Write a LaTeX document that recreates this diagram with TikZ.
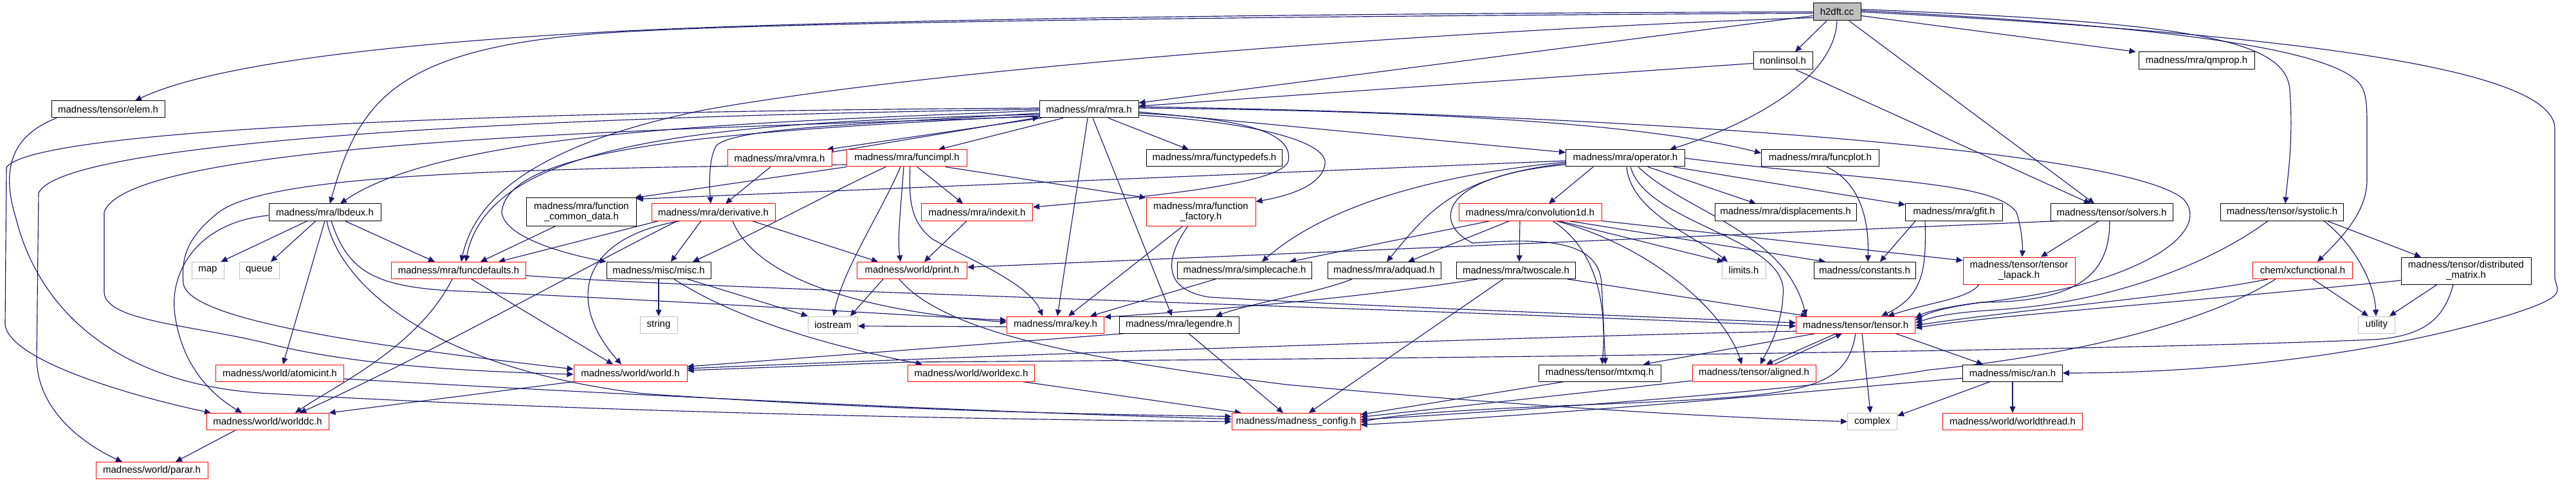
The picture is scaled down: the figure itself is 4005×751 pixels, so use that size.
\documentclass[tikz,border=0pt]{standalone}
\usepackage{fontspec}
\setmainfont{Liberation Sans}
\usetikzlibrary{arrows.meta,backgrounds}
\definecolor{eblue}{HTML}{191970}
\definecolor{sysgray}{HTML}{BFBFBF}
\definecolor{rootgray}{HTML}{BFBFBF}
\begin{document}
\begin{tikzpicture}[x=1pt,y=-1pt,
  nd/.style={draw=black,line width=1pt,fill=white,inner sep=0pt,minimum height=26pt,align=center,font=\fontsize{15pt}{16pt}\selectfont},
  rd/.style={nd,draw=red},
  gn/.style={nd,draw=sysgray},
  e/.style={draw=eblue,line width=1.15pt,-{Triangle[length=10pt,width=9pt]}}]
\useasboundingbox (0,0) rectangle (4005,751);
% ---------------- nodes ----------------
\node[nd,minimum width=74pt,minimum height=27pt,fill=rootgray] (h2dft) at (2856,18.5) {h2dft.cc};
\node[nd,minimum width=92pt,minimum height=27pt] (nonlinsol) at (2772,94.5) {nonlinsol.h};
\node[nd,minimum width=180pt,minimum height=27pt] (qmprop) at (3415,94.5) {madness/mra/qmprop.h};
\node[nd,minimum width=176pt] (elem) at (168,170) {madness/tensor/elem.h};
\node[nd,minimum width=154pt] (mra) at (1693,170) {madness/mra/mra.h};
\node[rd,minimum width=162pt] (vmra) at (1212,246) {madness/mra/vmra.h};
\node[rd,minimum width=187pt] (funcimpl) at (1410,246) {madness/mra/funcimpl.h};
\node[nd,minimum width=211pt] (functypedefs) at (1888,246) {madness/mra/functypedefs.h};
\node[nd,minimum width=185pt] (operator) at (2527,246) {madness/mra/operator.h};
\node[nd,minimum width=183pt] (funcplot) at (2830,246) {madness/mra/funcplot.h};
\node[nd,minimum width=174pt] (lbdeux) at (505,330) {madness/mra/lbdeux.h};
\node[nd,minimum width=171pt,minimum height=43pt] (fcd) at (904,329.5) {madness/mra/function\\\_common\_data.h};
\node[rd,minimum width=192pt] (derivative) at (1109,330) {madness/mra/derivative.h};
\node[rd,minimum width=173pt] (indexit) at (1519,330) {madness/mra/indexit.h};
\node[rd,minimum width=170pt,minimum height=43pt] (ffactory) at (1867,329.5) {madness/mra/function\\\_factory.h};
\node[rd,minimum width=222pt] (conv1d) at (2379,330) {madness/mra/convolution1d.h};
\node[nd,minimum width=220pt] (displacements) at (2776,330) {madness/mra/displacements.h};
\node[nd,minimum width=151pt] (gfit) at (3038,330) {madness/mra/gfit.h};
\node[nd,minimum width=190pt] (solvers) at (3283,330) {madness/tensor/solvers.h};
\node[nd,minimum width=191pt] (systolic) at (3548,330) {madness/tensor/systolic.h};
\node[gn,minimum width=50pt] (map) at (323,420.5) {map};
\node[gn,minimum width=62pt] (queue) at (403,420.5) {queue};
\node[rd,minimum width=209pt] (funcdefaults) at (713,420.5) {madness/mra/funcdefaults.h};
\node[nd,minimum width=162pt] (misc) at (1024,420.5) {madness/misc/misc.h};
\node[rd,minimum width=171pt] (print) at (1418,420.5) {madness/world/print.h};
\node[nd,minimum width=209pt] (simplecache) at (1935,420.5) {madness/mra/simplecache.h};
\node[nd,minimum width=176pt] (adquad) at (2152,420.5) {madness/mra/adquad.h};
\node[nd,minimum width=185pt] (twoscale) at (2357,420.5) {madness/mra/twoscale.h};
\node[gn,minimum width=68pt] (limits) at (2711,420.5) {limits.h};
\node[nd,minimum width=158pt] (constants) at (2899,420.5) {madness/constants.h};
\node[rd,minimum width=174pt,minimum height=42pt] (lapack) at (3139,421) {madness/tensor/tensor\\\_lapack.h};
\node[rd,minimum width=155pt] (xcfunc) at (3580,420.5) {chem/xcfunctional.h};
\node[nd,minimum width=202pt,minimum height=42pt] (distmat) at (3834,421) {madness/tensor/distributed\\\_matrix.h};
\node[gn,minimum width=58pt] (string) at (1024,505) {string};
\node[gn,minimum width=77pt] (iostream) at (1295,505) {iostream};
\node[rd,minimum width=151pt] (key) at (1641,505) {madness/mra/key.h};
\node[nd,minimum width=186pt] (legendre) at (1833,505) {madness/mra/legendre.h};
\node[rd,minimum width=185pt] (tensor) at (2885,505) {madness/tensor/tensor.h};
\node[gn,minimum width=57pt] (utility) at (3695,505) {utility};
\node[rd,minimum width=199pt] (atomicint) at (435,580) {madness/world/atomicint.h};
\node[rd,minimum width=176pt] (world) at (980,580) {madness/world/world.h};
\node[rd,minimum width=197pt] (worldexc) at (1510,580) {madness/world/worldexc.h};
\node[nd,minimum width=190pt] (mtxmq) at (2487,580) {madness/tensor/mtxmq.h};
\node[rd,minimum width=192pt] (aligned) at (2727,580) {madness/tensor/aligned.h};
\node[nd,minimum width=155pt] (ran) at (3129,580) {madness/misc/ran.h};
\node[rd,minimum width=190pt] (worlddc) at (416,655.5) {madness/world/worlddc.h};
\node[rd,minimum width=200pt] (config) at (2015,655.5) {madness/madness\_config.h};
\node[gn,minimum width=77pt] (complex) at (2911,655.5) {complex};
\node[rd,minimum width=217pt] (worldthread) at (3129,655.5) {madness/world/worldthread.h};
\node[rd,minimum width=174pt] (parar) at (236,731.5) {madness/world/parar.h};
% ---------------- edges ----------------
\begin{pgfonlayer}{background}
\fill[white] (0,0) rectangle (4005,751);
% h2dft.cc
\draw[e] (h2dft.west) .. controls (2200,20) and (1300,28) .. (900,52) .. controls (600,70) and (330,100) .. ([xshift=42pt]elem.north);
\draw[e] ([yshift=-2pt]h2dft.west) .. controls (2200,24) and (1300,32) .. (1000,48) .. controls (620,65) and (560,150) .. ([xshift=8pt]lbdeux.north);
\draw[e] ([yshift=-6pt]h2dft.west) -- ([yshift=10pt]mra.east);
\draw[e] ([yshift=-9pt]h2dft.west) .. controls (2300,45) and (1500,100) .. (1100,170) .. controls (850,220) and (740,300) .. ([xshift=4pt]funcdefaults.north);
\draw[e] ([xshift=-16pt]h2dft.south) -- ([xshift=19pt]nonlinsol.north);
\draw[e] (h2dft.south) .. controls (2852,130) and (2700,200) .. ([xshift=69pt]operator.north);
\draw[e] ([yshift=-6pt]h2dft.east) -- ([xshift=-4pt]qmprop.north west);
\draw[e] ([xshift=19pt]h2dft.south) -- ([xshift=-27pt]solvers.north);
\draw[e] ([yshift=4pt]h2dft.east) .. controls (3400,35) and (3555,60) .. (3560,140) .. controls (3566,220) and (3556,280) .. ([xshift=5pt]systolic.north);
\draw[e] ([yshift=2pt]h2dft.east) .. controls (3400,42) and (3640,80) .. (3672,135) .. controls (3680,150) and (3680,170) .. (3680,200) -- (3680,280) .. controls (3680,330) and (3640,370) .. ([xshift=23pt]xcfunc.north);
\draw[e] (h2dft.east) .. controls (3600,55) and (3972,110) .. (3972,200) -- (3972,430) .. controls (3972,452) and (4002,458) .. (3900,490) .. controls (3700,550) and (3450,580) .. (ran.east);
% nonlinsol.h
\draw[e] ([yshift=-4pt]nonlinsol.west) -- ([yshift=5pt]mra.east);
\draw[e] ([xshift=20pt]nonlinsol.south) -- ([xshift=-33pt]solvers.north);
% mra.h
\draw[e] ([yshift=-2pt]mra.west) .. controls (1200,190) and (700,200) .. ([xshift=24pt]lbdeux.north);
\draw[e] ([xshift=4pt]mra.south west) -- ([xshift=-8pt]vmra.north east);
\draw[e] ([yshift=-4pt]vmra.north east) -- ([yshift=1pt]mra.south west);
\draw[e] ([xshift=-40pt]mra.south) -- ([xshift=49pt]funcimpl.north);
\draw[e] ([xshift=30pt]mra.south) -- ([xshift=-40pt]functypedefs.north);
\draw[e] ([yshift=-4pt]mra.east) -- ([yshift=9pt]operator.west);
\draw[e] ([yshift=2pt]mra.east) .. controls (2200,172) and (2550,190) .. ([yshift=8pt]funcplot.west);
\draw[e] ([yshift=-6pt]mra.west) .. controls (1300,195) and (1150,200) .. (1115,225) .. controls (1103,240) and (1102,280) .. ([xshift=-4pt]derivative.north);
\draw[e] ([yshift=-6pt]mra.east) .. controls (1950,185) and (2010,210) .. (2003,250) .. controls (1995,285) and (1800,305) .. ([yshift=8pt]indexit.east);
\draw[e] ([yshift=-9pt]mra.east) .. controls (1950,190) and (2065,220) .. (2060,255) .. controls (2055,290) and (2000,305) .. ([yshift=16pt]ffactory.east);
\draw[e] ([yshift=-8pt]mra.west) .. controls (1100,190) and (760,220) .. ([xshift=11pt]funcdefaults.north);
\draw[e] ([yshift=-10pt]mra.west) .. controls (1100,205) and (790,230) .. (780,330) .. controls (785,370) and (880,395) .. (misc.north west);
\draw[e] ([xshift=-2pt]mra.south) -- ([xshift=3pt]key.north);
\draw[e] ([xshift=6pt]mra.south) -- ([xshift=-11pt]legendre.north);
\draw[e] ([yshift=4pt]mra.east) .. controls (2400,175) and (3300,225) .. (3395,310) .. controls (3440,360) and (3330,440) .. (3100,468) .. controls (3030,476) and (3000,485) .. ([yshift=7pt]tensor.east);
\draw[e] ([yshift=-11pt]mra.west) .. controls (1100,200) and (200,215) .. (162,330) -- (162,455) .. controls (165,500) and (300,505) .. (420,535) .. controls (560,570) and (750,578) .. ([yshift=-2pt]world.west);
\draw[e] ([yshift=2pt]mra.west) .. controls (900,172) and (60,195) .. (10,260) -- (8,505) .. controls (15,560) and (200,615) .. ([xshift=-88pt]worlddc.north);
\draw[e] (mra.west) .. controls (900,180) and (100,215) .. (60,300) -- (57,560) .. controls (60,650) and (150,700) .. ([xshift=-46pt]parar.north);
% elem.h
\draw[e] ([xshift=-80pt]elem.south) .. controls (20,210) and (0,260) .. (25,340) .. controls (60,480) and (180,600) .. (420,612) .. controls (900,640) and (1500,652) .. (config.west);
% vmra.h
\draw[e] ([xshift=-14pt]vmra.south) -- ([xshift=19pt]derivative.north);
% funcimpl.h
\draw[e] (funcimpl.south west) -- ([xshift=-3pt]fcd.north east);
\draw[e] ([xshift=16pt]funcimpl.south) -- ([xshift=-22pt]indexit.north);
\draw[e] ([xshift=60pt]funcimpl.south) -- (ffactory.north west);
\draw[e] ([xshift=-5pt]funcimpl.south) .. controls (1400,330) and (1395,370) .. ([xshift=-18pt]print.north);
\draw[e] ([xshift=5pt]funcimpl.south) .. controls (1413,310) and (1415,345) .. (1450,372) .. controls (1500,400) and (1600,440) .. ([xshift=-20pt]key.north);
\draw[e] ([xshift=-10pt]funcimpl.south) .. controls (1370,330) and (1310,420) .. ([xshift=1pt]iostream.north);
\draw[e] ([xshift=-33pt]funcimpl.south) .. controls (1290,300) and (1180,360) .. ([xshift=53pt]misc.north);
\draw[e] ([yshift=-10pt]funcimpl.west) .. controls (800,262) and (420,270) .. (340,330) .. controls (290,370) and (282,400) .. (285,440) .. controls (290,500) and (600,540) .. ([yshift=6pt]world.west);
% operator.h
\draw[e] ([yshift=-4pt]operator.west) -- ([yshift=-2pt]fcd.north east);
\draw[e] ([xshift=-50pt]operator.south) -- ([xshift=29pt]conv1d.north);
\draw[e] ([xshift=35pt]operator.south) -- ([xshift=-46pt]displacements.north);
\draw[e] ([xshift=75pt]operator.south) -- ([yshift=-2pt]gfit.north west);
\draw[e] (operator.east) .. controls (2900,282) and (3100,280) .. (3135,330) .. controls (3142,350) and (3145,380) .. ([xshift=5pt]lapack.north);
\draw[e] ([xshift=2pt]operator.south) .. controls (2535,330) and (2640,370) .. ([xshift=-25pt]limits.north);
\draw[e] ([xshift=8pt]operator.south) .. controls (2560,350) and (2785,370) .. (2772,460) .. controls (2770,510) and (2745,550) .. ([xshift=10pt]aligned.north);
\draw[e] ([xshift=20pt]operator.south) .. controls (2620,330) and (2775,360) .. ([xshift=-77pt]tensor.north);
\draw[e] ([yshift=-6pt]operator.west) .. controls (2200,275) and (2050,330) .. ([xshift=27pt]simplecache.north);
\draw[e] ([yshift=-8pt]operator.west) .. controls (2260,275) and (2220,330) .. ([xshift=4pt]adquad.north);
\draw[e] ([yshift=-10pt]operator.west) .. controls (2230,275) and (2230,350) .. (2290,378) .. controls (2420,368) and (2485,380) .. (2490,440) -- ([xshift=9pt]mtxmq.north);
% funcplot, gfit
\draw[e] ([xshift=10pt]funcplot.south) .. controls (2905,290) and (2905,370) .. ([xshift=5pt]constants.north);
\draw[e] ([xshift=-60pt]gfit.south) -- ([xshift=24pt]constants.north);
\draw[e] ([xshift=-45pt]gfit.south) .. controls (2995,420) and (2990,460) .. ([xshift=40pt]tensor.north);
% convolution1d.h
\draw[e] ([xshift=-32pt]conv1d.south) -- ([xshift=37pt]adquad.north);
\draw[e] ([xshift=-16pt]conv1d.south) -- ([xshift=5pt]twoscale.north);
\draw[e] ([xshift=-62pt]conv1d.south) -- ([xshift=70pt]simplecache.north);
\draw[e] ([xshift=45pt]conv1d.south) -- ([xshift=-31pt]limits.north);
\draw[e] ([xshift=60pt]conv1d.south) -- ([xshift=-61pt]constants.north);
\draw[e] ([xshift=40pt]conv1d.south) .. controls (2560,380) and (2680,480) .. ([xshift=-19pt]aligned.north);
\draw[e] ([xshift=35pt]conv1d.south) .. controls (2470,380) and (2500,450) .. ([xshift=4pt]mtxmq.north);
\draw[e] (conv1d.south east) -- ([yshift=16pt]lapack.west);
% solvers.h
\draw[e] ([xshift=-80pt]solvers.south) -- ([yshift=5pt]print.east);
\draw[e] ([xshift=-20pt]solvers.south) -- ([xshift=34pt]lapack.north);
\draw[e] ([xshift=-3pt]solvers.south) .. controls (3280,420) and (3240,470) .. (3080,470) .. controls (3020,478) and (2995,485) .. ([yshift=11pt]tensor.east);
% systolic.h
\draw[e] ([xshift=-22pt]systolic.south) .. controls (3450,400) and (3300,470) .. (3100,482) .. controls (3020,487) and (3000,495) .. ([yshift=3pt]tensor.east);
\draw[e] ([xshift=70pt]systolic.south) -- ([xshift=-70pt]distmat.north);
\draw[e] ([xshift=65pt]systolic.south) .. controls (3660,380) and (3692,440) .. ([xshift=-1pt]utility.north);
% xcfunctional.h
\draw[e] ([xshift=16pt]xcfunc.south) -- ([xshift=-13pt]utility.north);
\draw[e] ([xshift=-54pt]xcfunc.south) .. controls (3400,460) and (3150,480) .. ([yshift=-1pt]tensor.east);
\draw[e] ([xshift=-42pt]xcfunc.south) .. controls (3400,520) and (3150,560) .. (3000,575) .. controls (2850,600) and (2500,630) .. ([yshift=3pt]config.east);
% distributed_matrix.h
\draw[e] ([xshift=-45pt]distmat.south) -- ([xshift=20pt]utility.north);
\draw[e] ([yshift=-15pt]distmat.west) .. controls (3400,470) and (3100,490) .. ([yshift=-5pt]tensor.east);
\draw[e] ([xshift=-20pt]distmat.south) .. controls (3800,495) and (3770,523) .. (3690,528) .. controls (3300,545) and (2200,558) .. (1411,563) -- ([yshift=4pt]world.east);
% lbdeux.h
\draw[e] ([xshift=-27pt]lbdeux.south) -- ([xshift=-5pt]map.north east);
\draw[e] ([xshift=-14pt]lbdeux.south) -- ([xshift=18pt]queue.north);
\draw[e] (lbdeux.south) -- ([xshift=5pt]atomicint.north);
\draw[e] ([xshift=31pt]lbdeux.south) -- ([xshift=-37pt]funcdefaults.north);
\draw[e] ([yshift=-5pt]lbdeux.west) .. controls (310,345) and (262,420) .. (272,490) .. controls (285,580) and (340,620) .. ([xshift=-40pt]worlddc.north);
\draw[e] ([xshift=3pt]lbdeux.south) .. controls (525,430) and (650,570) .. (1000,612) .. controls (1400,640) and (1750,645) .. ([yshift=8pt]config.west);
\draw[e] ([xshift=10pt]lbdeux.south) .. controls (540,420) and (580,445) .. (700,452) .. controls (1100,470) and (1400,490) .. ([yshift=7pt]key.west);
% function_common_data.h
\draw[e] ([xshift=-40pt]fcd.south) -- ([xshift=34pt]funcdefaults.north);
% derivative.h
\draw[e] ([xshift=-85pt]derivative.south) -- ([xshift=62pt]funcdefaults.north);
\draw[e] ([xshift=-19pt]derivative.south) -- ([xshift=19pt]misc.north);
\draw[e] ([xshift=60pt]derivative.south) -- ([xshift=-53pt]print.north);
\draw[e] ([xshift=-51pt]derivative.south) .. controls (900,370) and (880,470) .. ([xshift=-14pt]world.north);
\draw[e] ([xshift=-56pt]derivative.south) .. controls (900,420) and (650,560) .. ([xshift=50pt]worlddc.north);
\draw[e] ([xshift=30pt]derivative.south) .. controls (1170,420) and (1300,480) .. ([yshift=4pt]key.west);
% indexit.h, function_factory.h
\draw[e] ([xshift=-16pt]indexit.south) -- ([xshift=19pt]print.north);
\draw[e] ([xshift=-28pt]ffactory.south) -- ([xshift=20pt]key.north);
\draw[e] ([xshift=-20pt]ffactory.south) .. controls (1812,400) and (1805,450) .. (1880,462) .. controls (2100,475) and (2500,490) .. ([yshift=3pt]tensor.west);
% misc.h
\draw[e] (misc.south) -- (string.north);
\draw[e] ([xshift=45pt]misc.south) -- (iostream.north west);
\draw[e] ([xshift=24pt]misc.south) .. controls (1150,500) and (1300,540) .. ([xshift=-76pt]worldexc.north);
% funcdefaults.h
\draw[e] ([xshift=-10pt]funcdefaults.south) .. controls (650,540) and (520,600) .. ([xshift=43pt]worlddc.north);
\draw[e] ([xshift=20pt]funcdefaults.south) -- ([xshift=-27pt]world.north);
\draw[e] ([yshift=-8pt]funcdefaults.east) .. controls (1100,450) and (2200,480) .. ([yshift=-2pt]tensor.west);
% print.h
\draw[e] ([xshift=-45pt]print.south) -- ([xshift=27pt]iostream.north);
\draw[e] ([xshift=-20pt]print.south) .. controls (1470,520) and (1700,560) .. (2000,598) .. controls (2400,635) and (2700,650) .. (complex.west);
% simplecache, adquad, twoscale
\draw[e] ([xshift=-45pt]simplecache.south) -- ([xshift=54pt]key.north);
\draw[e] ([xshift=-50pt]adquad.south) .. controls (2050,455) and (1950,470) .. ([xshift=57pt]legendre.north);
\draw[e] ([xshift=-60pt]twoscale.south) .. controls (2200,450) and (2000,475) .. ([yshift=12pt]key.east);
\draw[e] ([xshift=80pt]twoscale.south) -- ([xshift=-75pt]tensor.north);
\draw[e] ([xshift=-20pt]twoscale.south) -- ([xshift=20pt]config.north);
% lapack
\draw[e] ([xshift=-62pt]lapack.south) .. controls (3060,465) and (3000,470) .. ([xshift=50pt]tensor.north);
% key, legendre
\draw[e] ([yshift=-3pt]key.west) -- ([yshift=-2pt]iostream.east);
\draw[e] ([xshift=10pt]legendre.south west) -- ([yshift=10pt]world.east);
\draw[e] ([xshift=15pt]legendre.south) -- ([xshift=-20pt]config.north);
% tensor.h
\draw[e] ([xshift=-62pt]tensor.south) -- ([xshift=68pt]mtxmq.north);
\draw[e] ([xshift=-30pt]tensor.south) -- ([xshift=19pt]aligned.north);
\draw[e] ([xshift=32pt]aligned.north) -- ([xshift=-21pt]tensor.south);
\draw[e] ([xshift=10pt]tensor.south) -- ([xshift=-3pt]complex.north);
\draw[e] ([xshift=62pt]tensor.south) -- ([xshift=-46pt]ran.north);
\draw[e] (tensor.south) .. controls (2870,610) and (2800,615) .. (2500,628) .. controls (2300,636) and (2180,642) .. ([yshift=-1pt]config.east);
\draw[e] ([yshift=-10pt]tensor.west) .. controls (2500,520) and (1600,550) .. ([yshift=7pt]world.east);
% aligned, mtxmq, ran
\draw[e] ([yshift=-12pt]aligned.west) -- ([yshift=7pt]config.east);
\draw[e] ([xshift=-55pt]mtxmq.south) -- ([yshift=11pt]config.east);
\draw[e] (ran.south) -- (worldthread.north);
\draw[e] ([yshift=-8pt]ran.west) .. controls (2900,600) and (2500,640) .. ([yshift=-5pt]config.east);
\draw[e] ([xshift=-35pt]ran.south) -- ([yshift=9pt]complex.east);
% world side
\draw[e] ([xshift=80pt]worldexc.south) -- ([xshift=-85pt]config.north);
\draw[e] (world.south west) -- (worlddc.north east);
\draw[e] ([xshift=-50pt]worlddc.south) -- ([xshift=37pt]parar.north);
\draw[e] ([yshift=-9pt]atomicint.east) .. controls (900,610) and (1500,640) .. ([yshift=4pt]config.west);
\end{pgfonlayer}
\end{tikzpicture}
\end{document}
